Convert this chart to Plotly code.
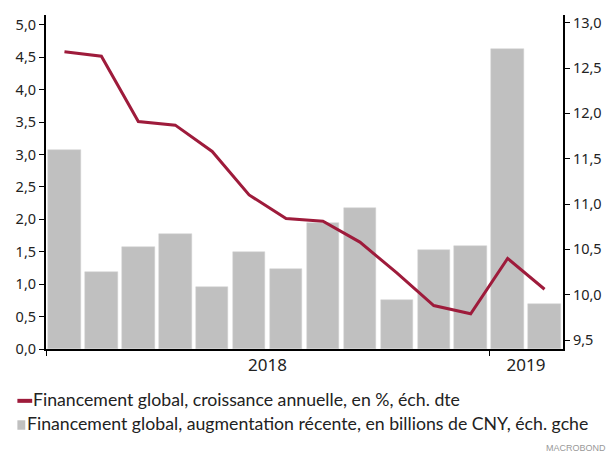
import plotly.graph_objects as go

months = ["2018-01", "2018-02", "2018-03", "2018-04", "2018-05", "2018-06", "2018-07",
          "2018-08", "2018-09", "2018-10", "2018-11", "2018-12", "2019-01", "2019-02"]
bar_values = [3.07, 1.19, 1.58, 1.78, 0.95, 1.49, 1.23, 1.94, 2.17, 0.75, 1.52, 1.59, 4.63, 0.70]
line_values = [12.68, 12.63, 11.91, 11.87, 11.58, 11.10, 10.84, 10.81, 10.58, 10.24, 9.88, 9.79, 10.40, 10.06]
year_labels = ["2018", "2019"]
year_label_pos = [5.5, 12.5]
year_tick_pos = [-0.5, 11.5]

line_name = "Financement global, croissance annuelle, en %, éch. dte"
bar_name = "Financement global, augmentation récente, en billions de CNY, éch. gche"

RED = "#9e1b3b"
GREY = "#c0c0c0"

x = list(range(len(months)))

fig = go.Figure()
fig.add_trace(go.Bar(x=x, y=bar_values, name=bar_name, marker_color=GREY,
                     marker_line_color="#d0d0d0", marker_line_width=0.5,
                     width=0.88, yaxis="y"))
fig.add_trace(go.Scatter(x=x, y=line_values, name=line_name, mode="lines",
                         line=dict(color=RED, width=3), yaxis="y2"))

L, R, T, B = 46, 570, 14, 349
W, H = 614, 455

def px(xp):
    return (xp - L) / (R - L)

def py(yp):
    return (B - yp) / (B - T)

tickfont = dict(family="Noto Sans", size=14.5, color="#222")
yearfont = dict(family="Noto Sans", size=17, color="#222")

fig.update_layout(
    width=W, height=H,
    margin=dict(l=L, r=W - R, t=T, b=H - B),
    paper_bgcolor="white", plot_bgcolor="white",
    separators=", ",
    showlegend=False,
    bargap=0,
    xaxis=dict(range=[-0.5, 13.5], tickvals=year_label_pos, ticktext=year_labels,
               ticks="", showgrid=False, zeroline=False,
               showline=True, linecolor="black", linewidth=2,
               tickfont=yearfont,
               minor=dict(tickvals=year_tick_pos, ticks="outside", ticklen=5,
                          tickcolor="black", tickwidth=1, showgrid=False)),
    yaxis=dict(range=[0, (B - T) / 65.0], tickvals=[i * 0.5 for i in range(11)],
               tickformat=".1f", ticks="outside", ticklen=5, tickcolor="black",
               showgrid=False, zeroline=False, showline=True, linecolor="black",
               linewidth=2, tickfont=tickfont),
    yaxis2=dict(range=[9.5 - (B - 340) / 90.94, 13.0 + (21.7 - T) / 90.94],
                tickvals=[9.5 + i * 0.5 for i in range(8)], tickformat=".1f",
                overlaying="y", side="right", ticks="outside", ticklen=5,
                tickcolor="black", showgrid=False, zeroline=False, showline=True,
                linecolor="black", linewidth=2, tickfont=tickfont),
)

legfont = dict(family="Lato", size=17.7, color="#222")
fig.add_shape(type="line", xref="paper", yref="paper",
              x0=px(17), x1=px(32), y0=py(401), y1=py(401),
              line=dict(color=RED, width=4))
fig.add_shape(type="rect", xref="paper", yref="paper",
              x0=px(17), x1=px(25), y0=py(420.5), y1=py(430),
              fillcolor=GREY, line=dict(width=0))
fig.add_annotation(text=line_name, xref="paper", yref="paper", x=px(31), y=py(400),
                   xanchor="left", yanchor="middle", showarrow=False, font=legfont)
fig.add_annotation(text=bar_name, xref="paper", yref="paper", x=px(25), y=py(424),
                   xanchor="left", yanchor="middle", showarrow=False, font=legfont)
fig.add_annotation(text="MACROBOND", xref="paper", yref="paper", x=px(616), y=py(448),
                   xanchor="right", yanchor="middle", showarrow=False,
                   font=dict(family="Liberation Sans", size=9, color="#999"))

fig.write_html("out.html")
